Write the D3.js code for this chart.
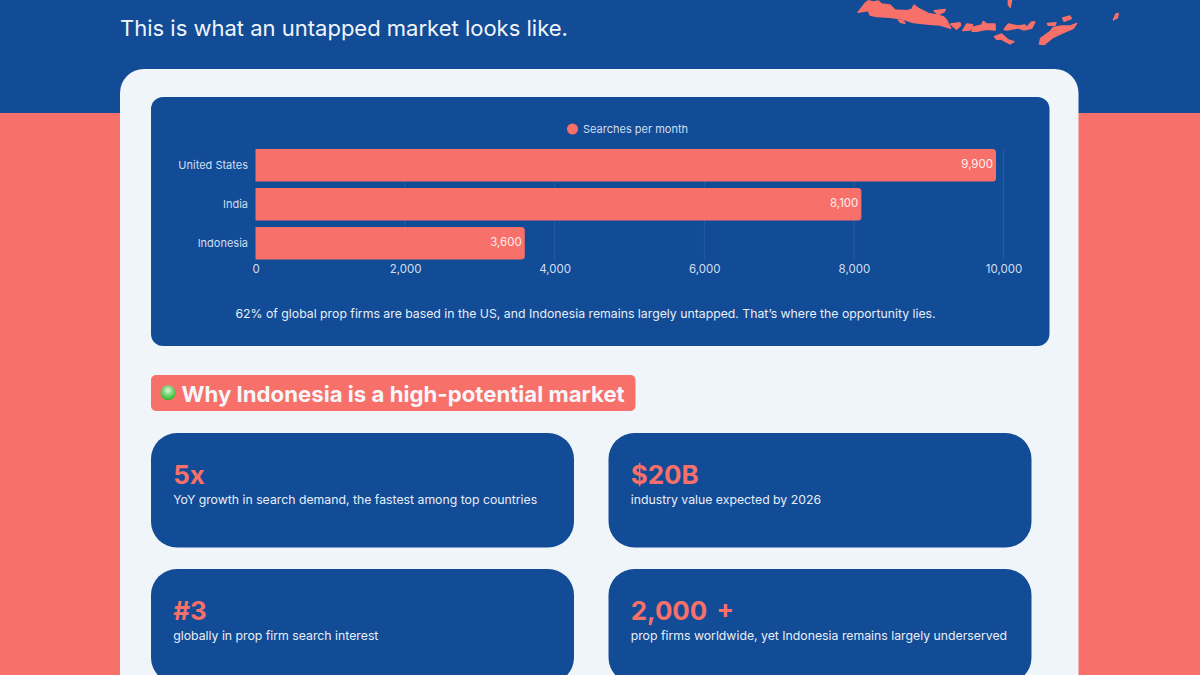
<!DOCTYPE html>
<html><head><meta charset="utf-8">
<script src="https://cdn.jsdelivr.net/npm/d3@7"></script>
<style>html,body{margin:0;padding:0;background:#fff;overflow:hidden}svg{display:block}text{font-family:Inter,sans-serif}</style>
</head><body><svg id="c" width="1200" height="675"></svg>
<script>
const categories=["United States","India","Indonesia"];
const searches=[9900,8100,3600];
const xTicks=[0,2000,4000,6000,8000,10000];
const seriesName="Searches per month";
const headline="This is what an untapped market looks like.";
const caption="62% of global prop firms are based in the US, and Indonesia remains largely untapped. That\u2019s where the opportunity lies.";
const sectionTitle="Why Indonesia is a high-potential market";
const statValues=["5x","$20B","#3","2,000 +"];
const statLabels=["YoY growth in search demand, the fastest among top countries","industry value expected by 2026","globally in prop firm search interest","prop firms worldwide, yet Indonesia remains largely underserved"];
const islands=[
"M54,37L75,10L85,2L100,6L115,3L125,12L150,15L165,30L200,32L215,28L222,15L235,25L265,40L290,45L310,50L320,60L332,85L300,75L260,72L220,68L190,58L150,52L110,50L90,45L85,32Z",
"M175,60L190,63L195,70L183,68Z","M282,32L316,28L312,36L295,44Z","M332,72L360,68L362,76L350,88L340,80Z",
"M368,92L380,72L398,74L390,90Z","M396,82L425,75L430,64L440,72L465,72L466,90L440,88L410,94L396,94Z",
"M463,110L485,102L505,120L522,125L510,132L485,118L470,118Z","M492,88L505,72L535,78L555,75L560,82L575,66L585,66L575,85L550,90L535,84L500,90Z",
"M622,70L648,68L645,76L625,76Z","M668,54L690,48L694,56L672,64Z","M598,132L602,115L630,95L640,82L665,78L690,78L710,70L700,85L670,98L640,112L612,134Z",
"M820,60L828,42L835,40L832,54Z","M505,0L515,0L511,22L505,14Z"];

const navy="#124b96",coral="#f8706a",light="#f0f5fa";
const svg=d3.select("#c");
svg.append("rect").attr("width",1200).attr("height",675).attr("fill",coral);
svg.append("rect").attr("width",1200).attr("height",113).attr("fill",navy);
svg.append("g").attr("transform","translate(840,0) scale(0.3333)").selectAll("path").data(islands).join("path").attr("d",d=>d).attr("fill",coral).attr("stroke",coral).attr("stroke-width",4).attr("stroke-linejoin","round");
svg.append("text").attr("x",120).attr("y",36).attr("font-size",22).attr("fill","#f0f5fa").text(headline);
svg.append("rect").attr("x",120).attr("y",69).attr("width",958.5).attr("height",680).attr("rx",24).attr("fill",light);
svg.append("rect").attr("x",151).attr("y",97).attr("width",898.5).attr("height",249).attr("rx",12).attr("fill",navy);

const x=d3.scaleLinear().domain([0,10000]).range([255.5,1003.5]);
const y=d3.scaleBand().domain(categories).range([149,259.5]).paddingInner(0.1667).paddingOuter(0);
const chart=svg.append("g");
chart.append("g").selectAll("line").data(xTicks.slice(1)).join("line")
 .attr("x1",d=>x(d)).attr("x2",d=>x(d)).attr("y1",149).attr("y2",260).attr("stroke","#fff").attr("stroke-opacity",0.09);
chart.append("g").selectAll("path").data(categories).join("path")
 .attr("d",(c,i)=>{const x0=x(0),x1=x(searches[i]),y0=y(c),h=y.bandwidth(),r=3.5;
   return `M${x0},${y0}H${x1-r}Q${x1},${y0} ${x1},${y0+r}V${y0+h-r}Q${x1},${y0+h} ${x1-r},${y0+h}H${x0}Z`;})
 .attr("fill",coral);
chart.append("g").selectAll("text").data(categories).join("text")
 .attr("x",(c,i)=>x(searches[i])-3).attr("y",c=>y(c)+y.bandwidth()/2+3).attr("text-anchor","end")
 .attr("font-size",11.5).attr("fill","#fdeeee").text((c,i)=>d3.format(",")(searches[i]));
const ax=d3.axisBottom(x).tickValues(xTicks).tickFormat(d3.format(",")).tickSize(0).tickPadding(0);
const gx=chart.append("g").attr("transform","translate(0,273)").call(ax);
gx.select(".domain").remove();
gx.selectAll("text").attr("dy",0).attr("font-size",11.5).attr("fill","#d2dfef").style("font-family","Inter,sans-serif");
const ay=d3.axisLeft(y).tickSize(0).tickPadding(7.5);
const gy=chart.append("g").attr("transform","translate(255.5,0.5)").call(ay);
gy.select(".domain").remove();
gy.selectAll("text").attr("font-size",11).attr("fill","#d2dfef").style("font-family","Inter,sans-serif");
chart.append("circle").attr("cx",572.5).attr("cy",129).attr("r",5.5).attr("fill",coral);
chart.append("text").attr("x",583).attr("y",132.5).attr("font-size",11).attr("fill","#d2dfef").text(seriesName);
svg.append("text").attr("x",585.5).attr("y",318).attr("text-anchor","middle").attr("font-size",12.27).attr("fill","#e8eff8").text(caption);

svg.append("rect").attr("x",151).attr("y",375).attr("width",484.5).attr("height",36).attr("rx",5).attr("fill",coral);
const grad=svg.append("defs").append("radialGradient").attr("id","ball").attr("cx","50%").attr("cy","35%").attr("r","65%");
grad.append("stop").attr("offset","0%").attr("stop-color","#dff5e0");
grad.append("stop").attr("offset","55%").attr("stop-color","#6fd36a");
grad.append("stop").attr("offset","100%").attr("stop-color","#2fb52f");
svg.append("circle").attr("cx",168).attr("cy",392.7).attr("r",7.5).attr("fill","url(#ball)");
svg.append("text").attr("x",181.5).attr("y",402).attr("font-size",22.2).attr("font-weight",700).attr("fill","#f5f7fb").text(sectionTitle);

const cardX=[151,608.5],cardY=[433,569];
statValues.forEach((v,i)=>{
 const cx=cardX[i%2],cy=cardY[Math.floor(i/2)];
 svg.append("rect").attr("x",cx).attr("y",cy).attr("width",423).attr("height",114.5).attr("rx",26).attr("fill",navy);
 svg.append("text").attr("x",cx+22.2).attr("y",cy+51).attr("font-size",25.9).attr("font-weight",700).attr("word-spacing",3).attr("fill",coral).text(v);
 svg.append("text").attr("x",cx+22.2).attr("y",cy+71).attr("font-size",12.27).attr("fill","#e8eff8").text(statLabels[i]);
});
</script></body></html>
